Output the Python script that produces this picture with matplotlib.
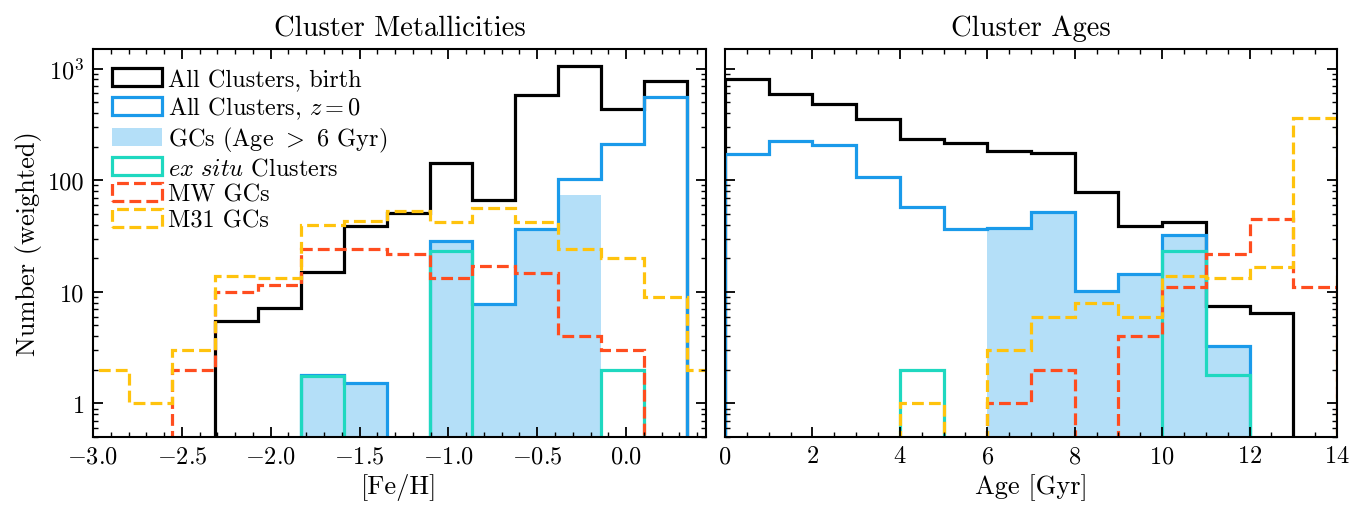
import numpy as np
import matplotlib
matplotlib.use("Agg")
import matplotlib.pyplot as plt
from matplotlib.patches import Patch
from matplotlib.ticker import MultipleLocator, FixedLocator, FixedFormatter, LogLocator, NullFormatter

plt.rcParams['font.family'] = 'serif'
plt.rcParams['font.serif'] = ['cmr10', 'DejaVu Serif']
plt.rcParams['mathtext.fontset'] = 'cm'
plt.rcParams['axes.formatter.use_mathtext'] = True
plt.rcParams['axes.unicode_minus'] = True

# ---- dados: metalicidade ----
feh_w = 0.2418
feh_edges = -2.315 + feh_w * np.arange(-3, 14)   # -3.04 ... 0.587
# valores por bin (16 bins)
feh_birth = [0, 0, 0, 5.5, 7.2, 15.1, 38.9, 51, 143, 67, 575, 1050, 432, 772, 0, 0]
feh_z0 = [0, 0, 0, 0, 0, 1.8, 1.53, 0, 28.4, 7.8, 36.3, 102, 211, 561, 0, 0]
feh_gc = [0, 0, 0, 0, 0, 1.8, 1.53, 0, 28.4, 7.8, 36.3, 74, 0, 0, 0, 0]
feh_exsitu = [0, 0, 0, 0, 0, 1.75, 0, 0, 23.1, 0, 0, 0, 2.0, 0, 0, 0]
feh_mw = [0, 0, 2.0, 10, 11.5, 24.1, 24.1, 22, 13.2, 16.9, 14.8, 4.0, 3.0, 0, 0, 0]
feh_m31 = [2.0, 1.0, 3.0, 13.9, 13.2, 40, 42.7, 52.5, 42, 56, 42, 24, 19.9, 9.06, 2.0, 0]

# ---- dados: idade ----
age_edges = np.arange(0, 15)
age_birth = [800, 588, 479, 357, 233, 215, 181, 174, 78, 38.6, 42, 7.5, 6.4, 0]
age_z0 = [172, 225, 206, 106, 57.5, 36.3, 37.3, 51.9, 10.2, 14.4, 32.1, 3.3, 0, 0]
age_gc = [0, 0, 0, 0, 0, 0, 37.3, 51.9, 10.2, 14.4, 32.1, 3.3, 0, 0]
age_exsitu = [0, 0, 0, 0, 2.0, 0, 0, 0, 0, 0, 23.3, 1.78, 0, 0]
age_mw = [0, 0, 0, 0, 0, 0, 1.0, 2.0, 0, 4.0, 11.1, 22, 44.6, 11.1]
age_m31 = [0, 0, 0, 0, 1.0, 0, 3.0, 6.0, 8.0, 6.0, 13.9, 13.2, 16.8, 364]

c_black = 'black'
c_blue = '#1a9aea'
c_fill = '#b4dff8'
c_teal = '#1fd8c0'
c_red = '#ff4d1f'
c_yel = '#ffc30d'
lw = 2.3

fig = plt.figure(figsize=(13.61, 5.10), dpi=100)
ax1 = fig.add_axes([93 / 1361, 1 - 438 / 510, 613 / 1361, 388 / 510])
ax2 = fig.add_axes([725 / 1361, 1 - 438 / 510, 612 / 1361, 388 / 510])


def desenha(ax, edges, birth, z0, gc, exsitu, mw, m31):
    ax.stairs(gc, edges, fill=True, color=c_fill, baseline=0, lw=0)
    ax.stairs(birth, edges, color=c_black, lw=lw, baseline=0)
    ax.stairs(z0, edges, color=c_blue, lw=lw, baseline=0)
    ax.stairs(exsitu, edges, color=c_teal, lw=lw, baseline=0)
    ax.stairs(mw, edges, color=c_red, lw=lw, ls='--', baseline=0)
    ax.stairs(m31, edges, color=c_yel, lw=lw, ls='--', baseline=0)
    ax.set_yscale('log')
    ax.set_ylim(0.5, 1500)
    ax.yaxis.set_major_locator(FixedLocator([1, 10, 100, 1000]))
    ax.yaxis.set_minor_locator(LogLocator(base=10, subs=np.arange(2, 10)))
    ax.yaxis.set_minor_formatter(NullFormatter())
    ax.tick_params(which='both', direction='in', top=True, right=True, labelsize=17.5)
    ax.tick_params(which='major', length=7, width=1.3, pad=6)
    ax.tick_params(which='minor', length=3.5, width=1.0)
    for s in ax.spines.values():
        s.set_linewidth(1.5)


desenha(ax1, feh_edges, feh_birth, feh_z0, feh_gc, feh_exsitu, feh_mw, feh_m31)
desenha(ax2, age_edges, age_birth, age_z0, age_gc, age_exsitu, age_mw, age_m31)

ax1.set_xlim(-3.0, 0.45)
ax1.xaxis.set_major_locator(MultipleLocator(0.5))
ax1.xaxis.set_minor_locator(MultipleLocator(0.1))
ax1.yaxis.set_major_formatter(FixedFormatter(['1', '10', '100', r'$10^3$']))
ax1.set_xlabel('[Fe/H]', fontsize=19)
ax1.set_ylabel('Number (weighted)', fontsize=19)
ax1.set_title('Cluster Metallicities', fontsize=20.5, pad=10)

ax2.set_xlim(0, 14)
ax2.xaxis.set_major_locator(MultipleLocator(2))
ax2.xaxis.set_minor_locator(MultipleLocator(0.5))
ax2.yaxis.set_major_formatter(NullFormatter())
ax2.set_xlabel('Age [Gyr]', fontsize=19)
ax2.set_title('Cluster Ages', fontsize=20.5, pad=10)

handles = [
    Patch(facecolor='none', edgecolor=c_black, lw=lw, label='All Clusters, birth'),
    Patch(facecolor='none', edgecolor=c_blue, lw=lw, label=r'All Clusters, $z = 0$'),
    Patch(facecolor=c_fill, edgecolor='none', label=r'GCs (Age $>$ 6 Gyr)'),
    Patch(facecolor='none', edgecolor=c_teal, lw=lw, label=r'$ex\ situ$ Clusters'),
    Patch(facecolor='none', edgecolor=c_red, lw=lw, ls='--', label='MW GCs'),
    Patch(facecolor='none', edgecolor=c_yel, lw=lw, ls='--', label='M31 GCs'),
]
ax1.legend(handles=handles, loc='upper left', frameon=False, fontsize=17.5,
           handlelength=2.05, handleheight=0.75, labelspacing=0.15,
           handletextpad=0.25, borderaxespad=0.5, borderpad=0.3)

fig.savefig('out.png', dpi=100)
